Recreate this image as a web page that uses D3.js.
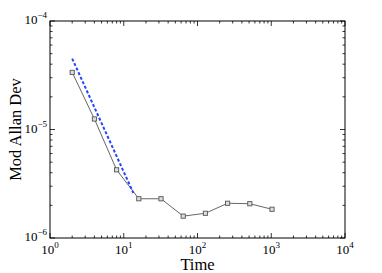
<!DOCTYPE html>
<html>
<head>
<meta charset="UTF-8">
<style>
  body { margin: 0; background: #fff; }
  svg { display: block; font-family: 'Liberation Serif', 'Times New Roman', serif; }
</style>
</head>
<body>
<svg width="382" height="273"></svg>
<script src="https://d3js.org/d3.v7.min.js"></script>
<script>
  const taus = [2, 4, 8, 16, 32, 64, 128, 256, 512, 1024];
  const adev = [3.36e-5, 1.25e-5, 4.25e-6, 2.3e-6, 2.3e-6, 1.59e-6, 1.69e-6, 2.09e-6, 2.07e-6, 1.84e-6];
  // reference slope line (tau^-1.5)
  const fitTau = [2, 13.5];
  const fitDev = [4.5e-5, 2.6e-6];
  const xTicks = [1, 10, 100, 1000, 10000];
  const xExp = ["0", "1", "2", "3", "4"];
  const yTicks = [1e-6, 1e-5, 1e-4];
  const yExp = ["\u22126", "\u22125", "\u22124"];

  const m = { left: 50, right: 37, top: 21, bottom: 35 };
  const W = 382, H = 273;
  const svg = d3.select("svg");

  const x = d3.scaleLog().domain([1, 1e4]).range([m.left, W - m.right]);
  const y = d3.scaleLog().domain([1e-6, 1e-4]).range([H - m.bottom, m.top]);

  const g = svg.append("g");

  // minor ticks
  const minorX = [];
  for (let d = 1; d < 1e4; d *= 10) for (let k = 2; k < 10; k++) minorX.push(d * k);
  const minorY = [];
  for (let d = 1e-6; d < 1e-4 * 0.99; d *= 10) for (let k = 2; k < 10; k++) minorY.push(d * k);

  const tk = g.append("g").attr("stroke", "#000").attr("stroke-width", 0.8);
  const x0 = x.range()[0], x1 = x.range()[1], y0 = y.range()[0], y1 = y.range()[1];
  minorX.forEach(v => {
    tk.append("line").attr("x1", x(v)).attr("x2", x(v)).attr("y1", y0).attr("y2", y0 - 2.5);
    tk.append("line").attr("x1", x(v)).attr("x2", x(v)).attr("y1", y1).attr("y2", y1 + 2.5);
  });
  xTicks.forEach(v => {
    tk.append("line").attr("x1", x(v)).attr("x2", x(v)).attr("y1", y0).attr("y2", y0 - 5);
    tk.append("line").attr("x1", x(v)).attr("x2", x(v)).attr("y1", y1).attr("y2", y1 + 5);
  });
  minorY.forEach(v => {
    tk.append("line").attr("y1", y(v)).attr("y2", y(v)).attr("x1", x0).attr("x2", x0 + 2.5);
    tk.append("line").attr("y1", y(v)).attr("y2", y(v)).attr("x1", x1).attr("x2", x1 - 2.5);
  });
  yTicks.forEach(v => {
    tk.append("line").attr("y1", y(v)).attr("y2", y(v)).attr("x1", x0).attr("x2", x0 + 5);
    tk.append("line").attr("y1", y(v)).attr("y2", y(v)).attr("x1", x1).attr("x2", x1 - 5);
  });

  g.append("rect").attr("x", x0).attr("y", y1).attr("width", x1 - x0).attr("height", y0 - y1)
    .attr("fill", "none").attr("stroke", "#000").attr("stroke-width", 1);

  // tick labels
  xTicks.forEach((v, i) => {
    const t = g.append("text").attr("x", x(v)).attr("y", y0 + 16).attr("text-anchor", "middle")
      .attr("font-size", 13);
    t.append("tspan").text("10");
    t.append("tspan").attr("dy", -6).attr("font-size", 9).text(xExp[i]);
  });
  yTicks.forEach((v, i) => {
    const t = g.append("text").attr("x", x0 - 3).attr("y", y(v) + 3).attr("text-anchor", "end")
      .attr("font-size", 13);
    t.append("tspan").text("10");
    t.append("tspan").attr("dy", -6).attr("font-size", 9).text(yExp[i]);
  });

  // axis titles
  g.append("text").attr("x", (x0 + x1) / 2).attr("y", H - 3).attr("text-anchor", "middle")
    .attr("font-size", 16.5).text("Time");
  g.append("text").attr("transform", `translate(21,${(y0 + y1) / 2}) rotate(-90)`)
    .attr("text-anchor", "middle").attr("font-size", 16.5).text("Mod Allan Dev");

  // data line
  const line = d3.line().x(d => x(d[0])).y(d => y(d[1]));
  const pts = taus.map((t, i) => [t, adev[i]]);
  g.append("path").attr("d", line(pts)).attr("fill", "none").attr("stroke", "#555").attr("stroke-width", 0.9);
  g.selectAll(".mk").data(pts).enter().append("rect")
    .attr("x", d => x(d[0]) - 2.1).attr("y", d => y(d[1]) - 2.1)
    .attr("width", 4.2).attr("height", 4.2)
    .attr("fill", "#ddd").attr("stroke", "#555").attr("stroke-width", 0.9);

  // slope line
  const fit = fitTau.map((t, i) => [t, fitDev[i]]);
  g.append("path").attr("d", line(fit)).attr("fill", "none").attr("stroke", "#2244ff")
    .attr("stroke-width", 2).attr("stroke-dasharray", "3,2");
</script>
</body>
</html>
